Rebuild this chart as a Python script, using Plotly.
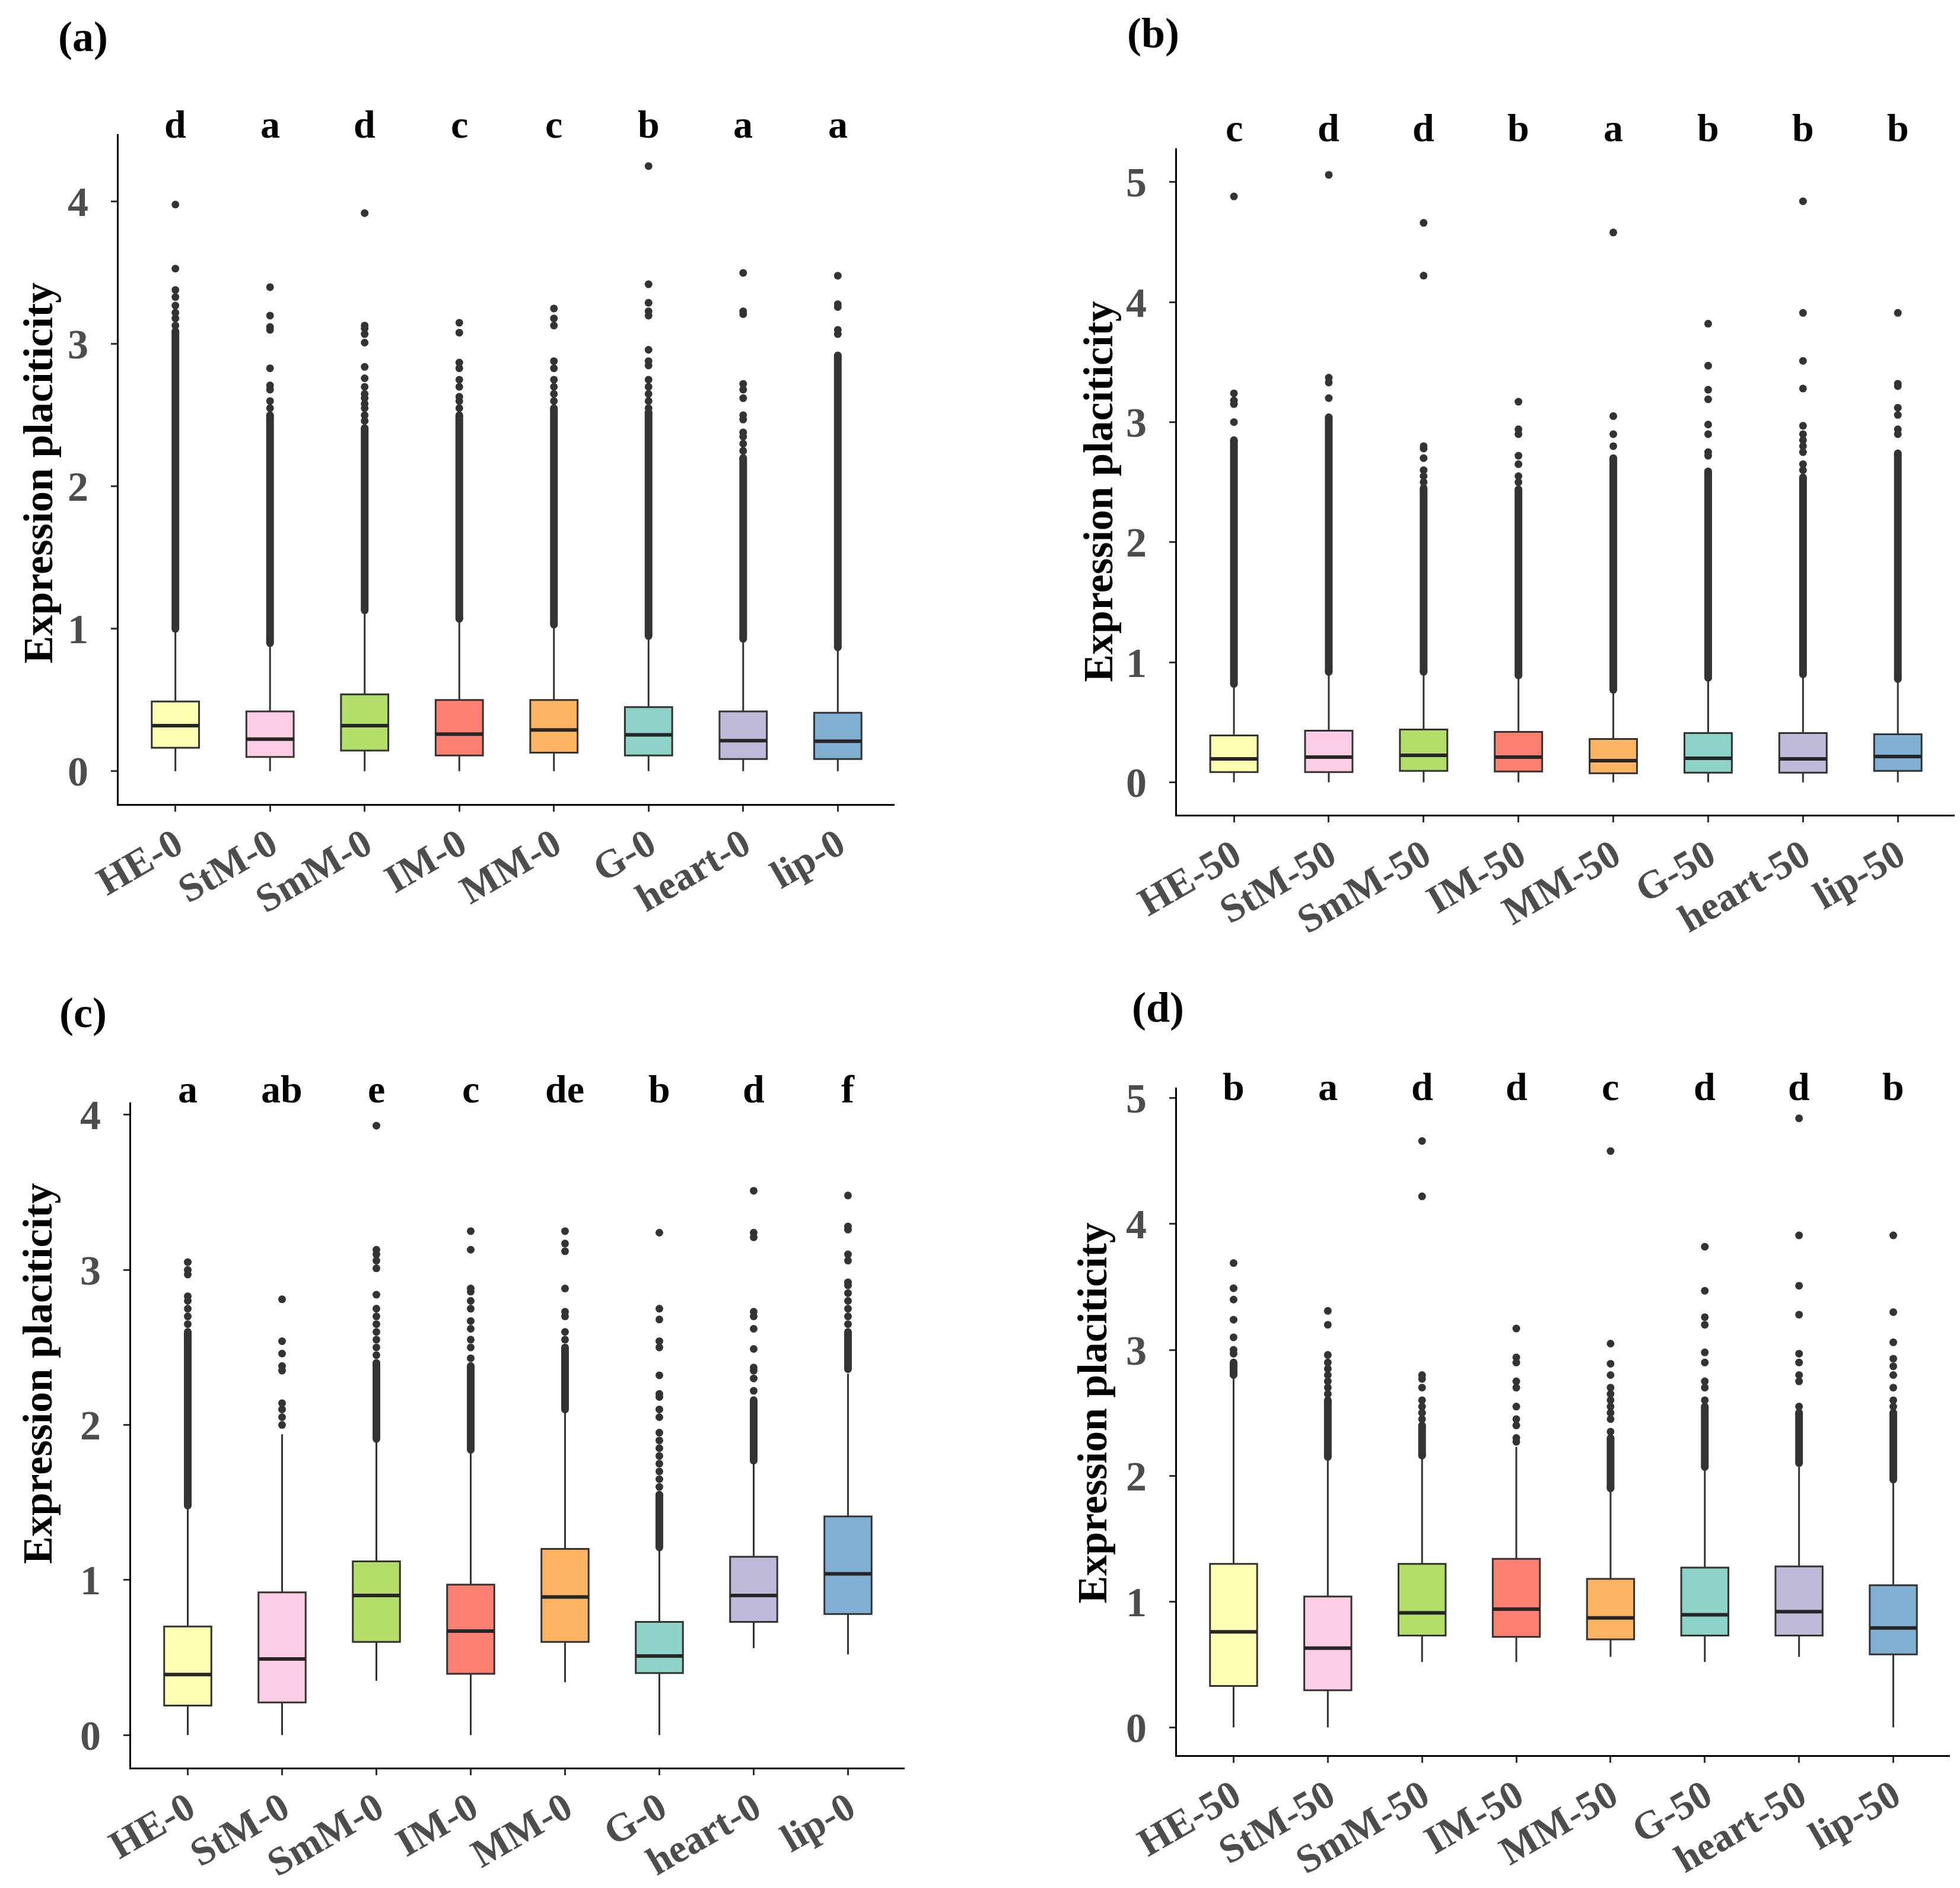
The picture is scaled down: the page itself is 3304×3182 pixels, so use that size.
import plotly.graph_objects as go

groups = ["HE", "StM", "SmM", "IM", "MM", "G", "heart", "lip"]
colors = ["#FFFFB3", "#FCCDE5", "#B3DE69", "#FB8072", "#FDB462", "#8DD3C7", "#BEBADA", "#80B1D3"]

# panel (a): day 0
q1_a = [0.165, 0.10, 0.145, 0.11, 0.13, 0.11, 0.085, 0.085]
med_a = [0.32, 0.225, 0.32, 0.26, 0.29, 0.255, 0.215, 0.21]
q3_a = [0.49, 0.42, 0.54, 0.50, 0.50, 0.45, 0.42, 0.41]
lo_a = [0, 0, 0, 0, 0, 0, 0, 0]
hi_a = [0.99, 0.88, 1.12, 1.05, 1.01, 0.93, 0.92, 0.85]
dense_a = [[1.0, 3.09], [0.90, 2.50], [1.13, 2.41], [1.07, 2.50], [1.03, 2.55], [0.95, 2.52], [0.93, 2.20], [0.87, 2.92]]
out_a = [
    [3.13, 3.18, 3.22, 3.27, 3.33, 3.38, 3.53, 3.98],
    [2.55, 2.6, 2.68, 2.71, 2.83, 3.10, 3.12, 3.20, 3.40],
    [2.46, 2.5, 2.55, 2.58, 2.62, 2.65, 2.7, 2.76, 2.84, 3.01, 3.07, 3.11, 3.13, 3.92],
    [2.55, 2.6, 2.63, 2.7, 2.75, 2.83, 2.87, 3.08, 3.15],
    [2.6, 2.65, 2.7, 2.75, 2.83, 2.88, 3.13, 3.18, 3.25],
    [2.55, 2.6, 2.65, 2.7, 2.75, 2.85, 2.88, 2.96, 3.2, 3.23, 3.29, 3.42, 4.25],
    [2.25, 2.3, 2.35, 2.38, 2.47, 2.5, 2.62, 2.68, 2.72, 3.21, 3.23, 3.50],
    [3.07, 3.1, 3.26, 3.28, 3.48],
]
letters_a = ["d", "a", "d", "c", "c", "b", "a", "a"]

# panel (b): day 50
q1_b = [0.085, 0.085, 0.095, 0.09, 0.075, 0.08, 0.08, 0.095]
med_b = [0.195, 0.21, 0.225, 0.21, 0.18, 0.2, 0.195, 0.215]
q3_b = [0.39, 0.43, 0.44, 0.42, 0.36, 0.41, 0.41, 0.40]
lo_b = [0, 0, 0, 0, 0, 0, 0, 0]
hi_b = [0.80, 0.90, 0.90, 0.87, 0.75, 0.85, 0.88, 0.84]
dense_b = [[0.82, 2.85], [0.92, 3.04], [0.92, 2.45], [0.89, 2.44], [0.77, 2.70], [0.87, 2.59], [0.90, 2.54], [0.86, 2.74]]
out_b = [
    [3.0, 3.15, 3.18, 3.24, 4.88],
    [3.2, 3.33, 3.37, 5.06],
    [2.5, 2.55, 2.6, 2.7, 2.78, 2.8, 4.22, 4.66],
    [2.5, 2.55, 2.65, 2.72, 2.9, 2.94, 3.17],
    [2.8, 2.9, 3.05, 4.58],
    [2.72, 2.75, 2.9, 2.98, 3.19, 3.27, 3.47, 3.82],
    [2.6, 2.65, 2.75, 2.8, 2.85, 2.9, 2.97, 3.28, 3.51, 3.91, 4.84],
    [2.9, 2.94, 3.06, 3.12, 3.3, 3.32, 3.91],
]
letters_b = ["c", "d", "d", "b", "a", "b", "b", "b"]

# panel (c): day 0
q1_c = [0.19, 0.21, 0.60, 0.395, 0.60, 0.40, 0.73, 0.78]
med_c = [0.39, 0.49, 0.90, 0.67, 0.89, 0.51, 0.90, 1.04]
q3_c = [0.70, 0.92, 1.12, 0.97, 1.20, 0.73, 1.15, 1.41]
lo_c = [0, 0, 0.35, 0, 0.34, 0, 0.56, 0.52]
hi_c = [1.47, 1.94, 1.90, 1.83, 2.09, 1.20, 1.76, 2.33]
dense_c = [[1.48, 2.6], None, [1.91, 2.4], [1.84, 2.38], [2.1, 2.5], [1.21, 1.55], [1.77, 2.16], [2.36, 2.6]]
out_c = [
    [2.65, 2.7, 2.75, 2.8, 2.83, 2.97, 3.0, 3.05],
    [2.0, 2.05, 2.1, 2.14, 2.35, 2.38, 2.46, 2.54, 2.81],
    [2.45, 2.5, 2.55, 2.6, 2.65, 2.7, 2.75, 2.84, 3.01, 3.06, 3.1, 3.13, 3.93],
    [2.43, 2.5, 2.55, 2.62, 2.67, 2.75, 2.8, 2.86, 2.88, 3.13, 3.25],
    [2.55, 2.6, 2.7, 2.73, 2.88, 3.12, 3.17, 3.25],
    [1.6, 1.65, 1.7, 1.75, 1.8, 1.85, 1.9, 1.95, 2.05, 2.1, 2.18, 2.2, 2.32, 2.5, 2.54, 2.68, 2.75, 3.24],
    [2.22, 2.3, 2.35, 2.37, 2.49, 2.62, 2.7, 2.73, 3.21, 3.24, 3.51],
    [2.65, 2.7, 2.75, 2.8, 2.85, 2.9, 2.92, 3.06, 3.1, 3.26, 3.28, 3.48],
]
letters_c = ["a", "ab", "e", "c", "de", "b", "d", "f"]

# panel (d): day 50
q1_d = [0.33, 0.295, 0.73, 0.72, 0.70, 0.73, 0.73, 0.58]
med_d = [0.76, 0.63, 0.91, 0.94, 0.87, 0.895, 0.92, 0.79]
q3_d = [1.30, 1.04, 1.30, 1.34, 1.18, 1.27, 1.28, 1.13]
lo_d = [0, 0, 0.52, 0.52, 0.56, 0.52, 0.56, 0]
hi_d = [2.78, 2.14, 2.14, 2.23, 1.88, 2.05, 2.07, 1.95]
dense_d = [[2.8, 2.9], [2.15, 2.6], [2.16, 2.4], None, [1.9, 2.3], [2.07, 2.55], [2.1, 2.5], [1.97, 2.5]]
out_d = [
    [2.97, 3.0, 3.1, 3.24, 3.4, 3.49, 3.69],
    [2.65, 2.7, 2.75, 2.8, 2.85, 2.9, 2.96, 3.2, 3.31],
    [2.45, 2.5, 2.55, 2.6, 2.7, 2.77, 2.8, 4.22, 4.66],
    [2.27, 2.3, 2.4, 2.45, 2.55, 2.7, 2.75, 2.9, 2.94, 3.17],
    [2.35, 2.45, 2.5, 2.55, 2.6, 2.65, 2.7, 2.8, 2.89, 3.05, 4.58],
    [2.6, 2.7, 2.75, 2.9, 2.98, 3.2, 3.26, 3.47, 3.82],
    [2.55, 2.75, 2.8, 2.9, 2.97, 3.28, 3.51, 3.91, 4.84],
    [2.55, 2.6, 2.7, 2.8, 2.87, 2.93, 3.06, 3.3, 3.91],
]
letters_d = ["b", "a", "d", "d", "c", "d", "d", "b"]

FONT = "Liberation Serif"
DARK = "#333333"

panels = [
    dict(tag="(a)", sfx="0", q1=q1_a, med=med_a, q3=q3_a, lo=lo_a, hi=hi_a, dense=dense_a, out=out_a,
         letters=letters_a, letter_y=1.015, yrange=[-0.23, 4.475], yticks=[0, 1, 2, 3, 4],
         xdom=[0.0581, 0.4540], ydom=[0.5767, 0.9315], tag_xy=(0.040, 0.983), title_xy=(0.017, 0.752)),
    dict(tag="(b)", sfx="50", q1=q1_b, med=med_b, q3=q3_b, lo=lo_b, hi=hi_b, dense=dense_b, out=out_b,
         letters=letters_b, letter_y=1.031, yrange=[-0.27, 5.28], yticks=[0, 1, 2, 3, 4, 5],
         xdom=[0.5981, 0.9949], ydom=[0.5710, 0.9239], tag_xy=(0.586, 0.985), title_xy=(0.558, 0.742)),
    dict(tag="(c)", sfx="0", q1=q1_c, med=med_c, q3=q3_c, lo=lo_c, hi=hi_c, dense=dense_c, out=out_c,
         letters=letters_c, letter_y=1.020, yrange=[-0.21, 4.08], yticks=[0, 1, 2, 3, 4],
         xdom=[0.0645, 0.4591], ydom=[0.0663, 0.4186], tag_xy=(0.040, 0.466), title_xy=(0.017, 0.275)),
    dict(tag="(d)", sfx="50", q1=q1_d, med=med_d, q3=q3_d, lo=lo_d, hi=hi_d, dense=dense_d, out=out_d,
         letters=letters_d, letter_y=1.001, yrange=[-0.22, 5.085], yticks=[0, 1, 2, 3, 4, 5],
         xdom=[0.5981, 0.9924], ydom=[0.0729, 0.4265], tag_xy=(0.5884, 0.469), title_xy=(0.555, 0.254)),
]

fig = go.Figure()
annotations = []
layout_axes = {}
box_w = 0.5

for k, p in enumerate(panels, start=1):
    xa = "x" if k == 1 else f"x{k}"
    ya = "y" if k == 1 else f"y{k}"
    for i, g in enumerate(groups):
        pos = i + 1
        fig.add_trace(go.Box(
            x=[pos], q1=[p["q1"][i]], median=[p["med"][i]], q3=[p["q3"][i]],
            lowerfence=[p["lo"][i]], upperfence=[p["hi"][i]],
            width=box_w, whiskerwidth=0, boxpoints=False,
            fillcolor=colors[i], line=dict(color=DARK, width=3),
            xaxis=xa, yaxis=ya, showlegend=False, hoverinfo="skip"))
        # thicker median line like ggplot
        fig.add_trace(go.Scatter(
            x=[pos - box_w / 2, pos + box_w / 2], y=[p["med"][i], p["med"][i]],
            mode="lines", line=dict(color="#262626", width=6),
            xaxis=xa, yaxis=ya, showlegend=False, hoverinfo="skip"))
        d = p["dense"][i]
        if d is not None:
            fig.add_trace(go.Scatter(
                x=[pos, pos], y=d, mode="lines+markers",
                line=dict(color=DARK, width=13), marker=dict(color=DARK, size=13),
                xaxis=xa, yaxis=ya, showlegend=False, hoverinfo="skip"))
        fig.add_trace(go.Scatter(
            x=[pos] * len(p["out"][i]), y=p["out"][i], mode="markers",
            marker=dict(color=DARK, size=13),
            xaxis=xa, yaxis=ya, showlegend=False, hoverinfo="skip"))
        annotations.append(dict(
            x=pos, y=p["letter_y"], xref=xa, yref=f"{ya} domain", text=p["letters"][i],
            showarrow=False, xanchor="center", yanchor="middle",
            font=dict(family=FONT, size=66, color="black", weight="bold")))

    axis_common = dict(showline=True, linecolor="black", linewidth=3, ticks="outside",
                       ticklen=10, tickwidth=3, tickcolor=DARK, showgrid=False, zeroline=False,
                       automargin=False)
    layout_axes["xaxis" if k == 1 else f"xaxis{k}"] = dict(
        domain=p["xdom"], anchor=ya, range=[0.4, 8.6],
        tickvals=list(range(1, 9)), ticktext=[f"{g}-{p['sfx']}" for g in groups],
        tickangle=-30, ticklabelstandoff=-10,
        tickfont=dict(family=FONT, size=67, color="#4D4D4D", weight="bold"), **axis_common)
    layout_axes["yaxis" if k == 1 else f"yaxis{k}"] = dict(
        domain=p["ydom"], anchor=xa, range=p["yrange"], tickvals=p["yticks"],
        ticklabelstandoff=24,
        tickfont=dict(family=FONT, size=70, color="#4D4D4D", weight="bold"), **axis_common)

    annotations.append(dict(
        x=p["tag_xy"][0], y=p["tag_xy"][1], xref="paper", yref="paper", text=p["tag"],
        showarrow=False, xanchor="center", yanchor="middle",
        font=dict(family=FONT, size=72, color="black", weight="bold")))
    annotations.append(dict(
        x=p["title_xy"][0], y=p["title_xy"][1], xref="paper", yref="paper",
        text="Expression placiticity", textangle=-90, showarrow=False,
        xanchor="center", yanchor="middle",
        font=dict(family=FONT, size=70, color="black", weight="bold")))

fig.update_layout(
    width=3304, height=3182,
    margin=dict(l=0, r=0, t=0, b=0),
    plot_bgcolor="white", paper_bgcolor="white",
    annotations=annotations, **layout_axes)

fig.write_html("out.html")
